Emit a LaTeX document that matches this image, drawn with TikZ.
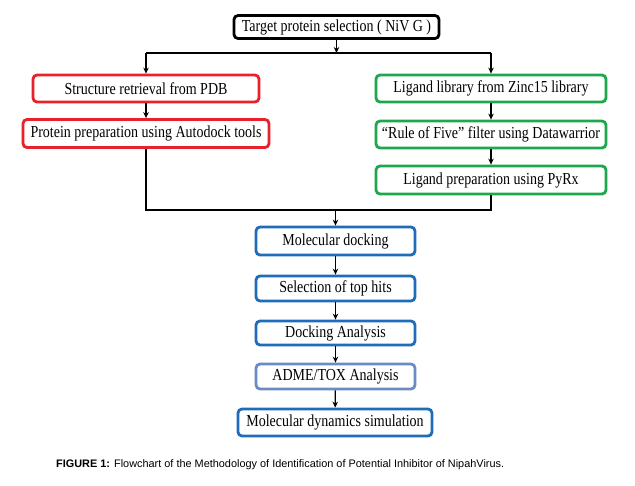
\documentclass[tikz,border=0pt]{standalone}
\usepackage{graphicx}
\usepackage{fontspec}
\setmainfont{Liberation Serif}
\newfontfamily\capfont{Liberation Sans}
\usetikzlibrary{arrows.meta}
\definecolor{bxred}{HTML}{E8212B}
\definecolor{bxgreen}{HTML}{1EA84E}
\definecolor{bxblue}{HTML}{1F6DBA}
\definecolor{bxsteel}{HTML}{6A8CC2}
\newcommand{\tall}[1]{\scalebox{1}[1.2]{#1}}
\tikzset{
  box/.style={draw, line width=2.8pt, rounded corners=4pt, inner sep=0pt, font=\fontsize{14}{16}\selectfont},
  redbox/.style={box, draw=bxred},
  greenbox/.style={box, draw=bxgreen},
  bluebox/.style={box, draw=bxblue},
  steelbox/.style={box, draw=bxsteel},
  blackbox/.style={box, draw=black},
  arr/.style={-{Stealth[length=6pt,width=5.5pt]}, line width=1.3pt},
  bus/.style={line width=2.6pt},
}
\begin{document}
\begin{tikzpicture}[x=1pt,y=-1pt]
\fill[white] (0,0) rectangle (635,485);
\useasboundingbox (0,0) rectangle (635,485);
\node[blackbox, minimum width=205, minimum height=23] (top) at (336.5,27) {\tall{Target protein selection ( NiV G )}};
\node[redbox, minimum width=226, minimum height=27] (l1) at (146,88.5) {\tall{Structure retrieval from PDB}};
\node[redbox, minimum width=246, minimum height=28] (l2) at (146,133.5) {\tall{Protein preparation using Autodock tools}};
\node[greenbox, minimum width=230, minimum height=27] (r1) at (491,88.5) {\tall{Ligand library from Zinc15 library}};
\node[greenbox, minimum width=230, minimum height=27] (r2) at (491,134.5) {\tall{``Rule of Five'' filter using Datawarrior}};
\node[greenbox, minimum width=230, minimum height=28] (r3) at (491,180) {\tall{Ligand preparation using PyRx}};
\node[bluebox, minimum width=159, minimum height=28] (b1) at (335.5,241) {\tall{Molecular docking}};
\node[bluebox, minimum width=159, minimum height=25] (b2) at (335.5,288.5) {\tall{Selection of top hits}};
\node[bluebox, minimum width=159, minimum height=24] (b3) at (335.5,333) {\tall{Docking Analysis}};
\node[steelbox, minimum width=159, minimum height=25] (b4) at (335.5,376.5) {\tall{ADME/TOX Analysis}};
\node[bluebox, minimum width=194, minimum height=27] (b5) at (335,422.5) {\tall{Molecular dynamics simulation}};
\coordinate (split) at (336.5,53);
\coordinate (join) at (335.5,210);
% split bus
\draw[arr] (top.south) -- (split);
\draw[bus] (l1.north |- split) -- (r1.north |- split);
\draw[arr] (l1.north |- split) -- (l1.north);
\draw[arr] (r1.north |- split) -- (r1.north);
\draw[arr] (l1) -- (l2);
\draw[arr] (r1) -- (r2);
\draw[arr] (r2) -- (r3);
% join bus
\draw[bus] (l2.south) -- (l2.south |- join) -- (r3.south |- join) -- (r3.south);
\draw[arr] (join) -- (b1.north);
\draw[arr] (b1) -- (b2);
\draw[arr] (b2) -- (b3);
\draw[arr] (b3) -- (b4);
\draw[arr] (b4) -- (b5);
\node[anchor=west, inner sep=0pt, font=\capfont\fontsize{10.9}{13}\selectfont] (cap) at (56,465) {\textbf{FIGURE 1:} Flowchart of the Methodology of Identification of Potential Inhibitor of NipahVirus.};
\end{tikzpicture}
\end{document}
